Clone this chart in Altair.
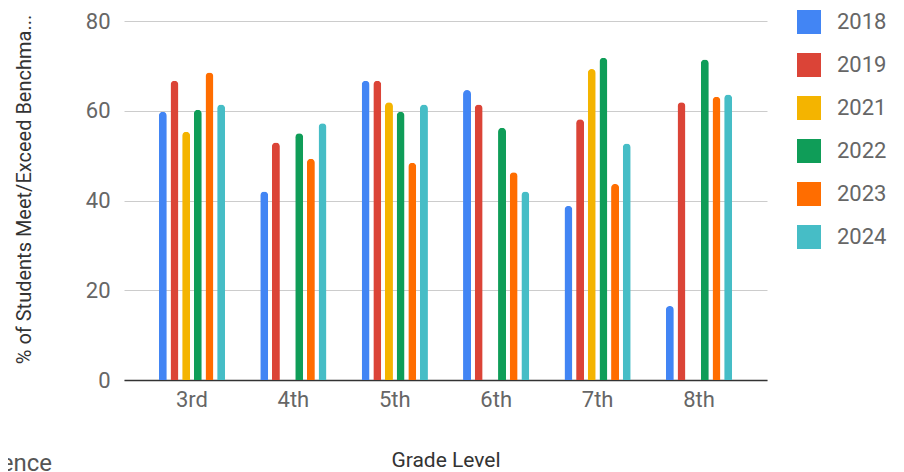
import altair as alt
import pandas as pd

grades = ["3rd", "4th", "5th", "6th", "7th", "8th"]
years = ["2018", "2019", "2021", "2022", "2023", "2024"]
colors = ["#4285F4", "#DB4437", "#F4B400", "#0F9D58", "#FF6D00", "#46BDC6"]

v2018 = [59.8, 42.0, 66.7, 64.6, 38.8, 16.5]
v2019 = [66.7, 52.9, 66.7, 61.4, 58.1, 61.9]
v2021 = [55.3, None, 61.9, None, 69.3, None]
v2022 = [60.2, 55.0, 59.8, 56.2, 71.8, 71.4]
v2023 = [68.5, 49.3, 48.4, 46.3, 43.7, 63.1]
v2024 = [61.4, 57.2, 61.4, 42.0, 52.7, 63.6]

series = {"2018": v2018, "2019": v2019, "2021": v2021,
          "2022": v2022, "2023": v2023, "2024": v2024}
rows = []
for y in years:
    for g, v in zip(grades, series[y]):
        if v is not None:
            rows.append({"Grade": g, "Year": y, "Value": v})
df = pd.DataFrame(rows)

bars = alt.Chart(df).mark_bar(size=8, cornerRadiusEnd=4).encode(
    x=alt.X("Grade:N", sort=grades,
            scale=alt.Scale(paddingInner=0.31, paddingOuter=0.3255),
            axis=alt.Axis(title="Grade Level", labelAngle=0, ticks=False,
                          domainColor="#333333", domainWidth=1.5,
                          labelPadding=9, titleY=86, titleBaseline="alphabetic",
                          titleFontSize=21, grid=False)),
    xOffset=alt.XOffset("Year:N", sort=years,
                        scale=alt.Scale(paddingInner=0.314, paddingOuter=0.157)),
    y=alt.Y("Value:Q", scale=alt.Scale(domain=[0, 80]),
            axis=alt.Axis(title="% of Students Meet/Exceed Benchma...",
                          values=[0, 20, 40, 60, 80], ticks=False, domain=False,
                          labelPadding=14, gridColor="#cccccc",
                          titleFontSize=20,
                          titleX=-100, titleY=168, titleBaseline="middle")),
    color=alt.Color("Year:N", sort=years,
                    scale=alt.Scale(domain=years, range=colors),
                    legend=alt.Legend(title=None, orient="none", legendX=673,
                                      legendY=-11, symbolType="square",
                                      symbolSize=576, symbolStrokeWidth=0,
                                      rowPadding=19, labelOffset=16,
                                      padding=0)),
)

note = alt.Chart(pd.DataFrame({"t": ["ence"]})).mark_text(
    align="right", baseline="alphabetic", fontSize=24, color="#555555",
    font="Roboto"
).encode(text="t:N", x=alt.value(-72), y=alt.value(450))

chart = alt.layer(bars, note).properties(
    width=643, height=359,
    padding={"left": 116, "top": 13, "right": 129, "bottom": 92},
    autosize=alt.AutoSizeParams(type="none"),
).configure(font="Roboto").configure_axis(
    labelFont="Roboto", titleFont="Roboto", labelFontSize=22, titleFontSize=22,
    labelColor="#666666", titleColor="#333333", titleFontWeight="normal",
).configure_legend(
    labelFont="Roboto", labelFontSize=22, labelColor="#666666",
).configure_view(stroke=None)

chart.save("out.html", embed_options={"renderer": "svg", "actions": False})
